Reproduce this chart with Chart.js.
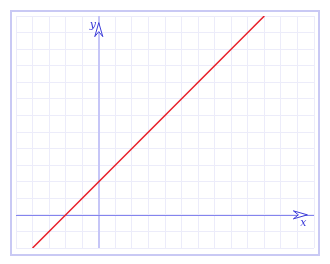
<!DOCTYPE html>
<html>
<head>
<meta charset="utf-8">
<script src="https://cdn.jsdelivr.net/npm/chart.js@4/dist/chart.umd.min.js"></script>
<style>
  body { margin: 0; background: #fff; }
  #wrap { position: relative; width: 330px; height: 264px; }
</style>
</head>
<body>
<div id="wrap"><canvas id="plot"></canvas></div>
<script>
// line y = x + 2, drawn from x=-4 to x=10
var lineX = [-4, 10];
var lineY = [-2, 12];
var xRange = [-5, 13];
var yRange = [-2, 12];
var axisNames = ['x', 'y'];

var points = [];
for (let i = 0; i < lineX.length; i++) {
    points.push({x: lineX[i], y: lineY[i]});
}

// frame, axes, arrows and names
const decor = {
    id: 'decor',
    beforeDraw(chart) {
        const g = chart.ctx;
        g.save();
        g.strokeStyle = '#c9c9f4';
        g.lineWidth = 2;
        g.strokeRect(11, 11, 308, 244);
        g.restore();
    },
    beforeDatasetsDraw(chart) {
        const g = chart.ctx;
        const a = chart.chartArea;
        const x0 = Math.round(chart.scales.x.getPixelForValue(0));
        const y0 = Math.round(chart.scales.y.getPixelForValue(0));
        g.save();
        g.strokeStyle = '#c6c6f7';
        g.lineWidth = 2;
        g.beginPath(); g.moveTo(x0, a.top); g.lineTo(x0, a.bottom); g.stroke();
        g.strokeStyle = '#8484ee';
        g.lineWidth = 1;
        g.beginPath(); g.moveTo(a.left, y0 + 0.5); g.lineTo(a.right, y0 + 0.5); g.stroke();
        g.restore();
    },
    afterDraw(chart) {
        const g = chart.ctx;
        const xs = chart.scales.x, ys = chart.scales.y;
        const x0 = xs.getPixelForValue(0), y0 = ys.getPixelForValue(0);
        const tipY = ys.getPixelForValue(11.6);
        const tipX = xs.getPixelForValue(12.6);
        g.save();
        g.strokeStyle = '#3a3ad8';
        g.fillStyle = '#ffffff';
        g.lineWidth = 1;
        // y arrow
        g.beginPath();
        g.moveTo(x0, tipY);
        g.lineTo(x0 + 4, tipY + 14);
        g.lineTo(x0, tipY + 9);
        g.lineTo(x0 - 4, tipY + 14);
        g.closePath();
        g.fill(); g.stroke();
        // x arrow
        g.beginPath();
        g.moveTo(tipX, y0);
        g.lineTo(tipX - 14, y0 - 4);
        g.lineTo(tipX - 9, y0);
        g.lineTo(tipX - 14, y0 + 4);
        g.closePath();
        g.fill(); g.stroke();
        g.fillStyle = '#3a3ad8';
        g.font = 'italic 11px "DejaVu Serif"';
        g.textAlign = 'center';
        g.textBaseline = 'middle';
        g.fillText(axisNames[0], tipX - 4, y0 + 8);
        g.fillText(axisNames[1], x0 - 6, tipY + 3);
        g.restore();
    }
};

new Chart(document.getElementById('plot'), {
    type: 'scatter',
    data: {
        datasets: [{
            data: points,
            showLine: true,
            borderColor: '#e8202a',
            borderWidth: 1.5,
            pointRadius: 0
        }]
    },
    options: {
        responsive: true,
        maintainAspectRatio: false,
        animation: false,
        layout: { padding: {left: 16, top: 16, right: 16, bottom: 16} },
        plugins: { legend: {display: false}, tooltip: {enabled: false} },
        scales: {
            x: {
                type: 'linear', min: xRange[0], max: xRange[1],
                ticks: { display: false, stepSize: 1 },
                grid: { color: '#ececfa', drawTicks: false },
                border: { display: false }
            },
            y: {
                type: 'linear', min: yRange[0], max: yRange[1],
                ticks: { display: false, stepSize: 1 },
                grid: { color: '#ececfa', drawTicks: false },
                border: { display: false }
            }
        }
    },
    plugins: [decor]
});
</script>
</body>
</html>
